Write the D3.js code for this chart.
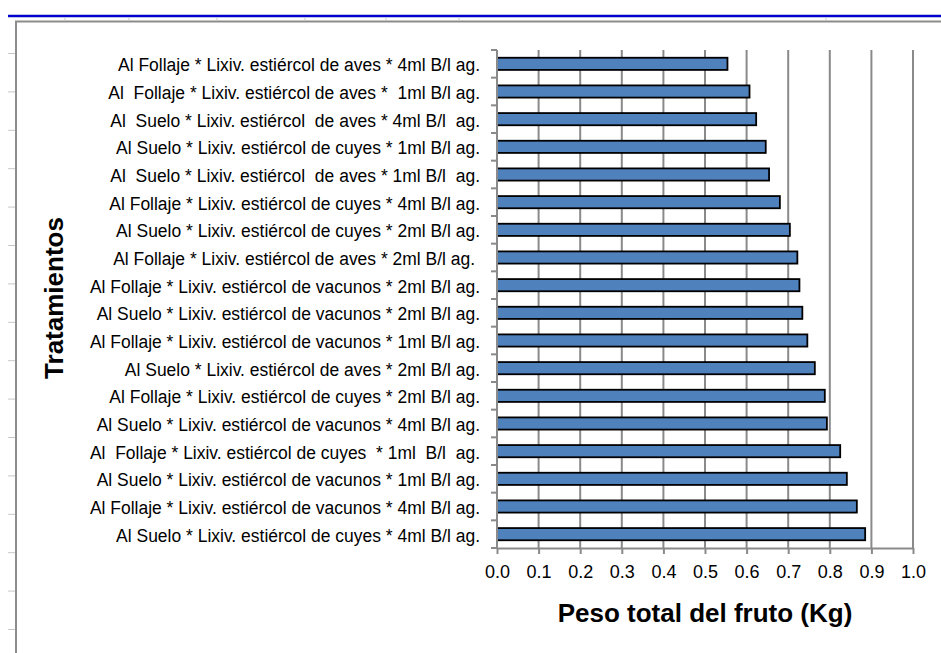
<!DOCTYPE html>
<html lang="es">
<head>
<meta charset="utf-8">
<script src="https://d3js.org/d3.v7.min.js"></script>
<style>
  body { margin: 0; background: #fff; }
  svg text { white-space: pre; }
</style>
</head>
<body>
<div id="chart"></div>
<script>
// treatments, top to bottom as in the picture
const tratamientos = [
  "Al Follaje * Lixiv. estiércol de aves * 4ml B/l ag.",
  "Al  Follaje * Lixiv. estiércol de aves *  1ml B/l ag.",
  "Al  Suelo * Lixiv. estiércol  de aves * 4ml B/l  ag.",
  "Al Suelo * Lixiv. estiércol de cuyes * 1ml B/l ag.",
  "Al  Suelo * Lixiv. estiércol  de aves * 1ml B/l  ag.",
  "Al Follaje * Lixiv. estiércol de cuyes * 4ml B/l ag.",
  "Al Suelo * Lixiv. estiércol de cuyes * 2ml B/l ag.",
  "Al Follaje * Lixiv. estiércol de aves * 2ml B/l ag. ",
  "Al Follaje * Lixiv. estiércol de vacunos * 2ml B/l ag.",
  "Al Suelo * Lixiv. estiércol de vacunos * 2ml B/l ag.",
  "Al Follaje * Lixiv. estiércol de vacunos * 1ml B/l ag.",
  "Al Suelo * Lixiv. estiércol de aves * 2ml B/l ag.",
  "Al Follaje * Lixiv. estiércol de cuyes * 2ml B/l ag.",
  "Al Suelo * Lixiv. estiércol de vacunos * 4ml B/l ag.",
  "Al  Follaje * Lixiv. estiércol de cuyes  * 1ml  B/l  ag.",
  "Al Suelo * Lixiv. estiércol de vacunos * 1ml B/l ag.",
  "Al Follaje * Lixiv. estiércol de vacunos * 4ml B/l ag.",
  "Al Suelo * Lixiv. estiércol de cuyes * 4ml B/l ag."
];
// peso total del fruto (Kg)
const peso = [0.554, 0.607, 0.623, 0.646, 0.654, 0.680, 0.704, 0.722, 0.727,
              0.734, 0.746, 0.764, 0.788, 0.793, 0.825, 0.841, 0.865, 0.885];
const xTicks = [0, 0.1, 0.2, 0.3, 0.4, 0.5, 0.6, 0.7, 0.8, 0.9, 1.0];

const W = 941, H = 653;
const mLeft = 497, mRight = 913, mTop = 50, mBottom = 548;

const svg = d3.select("#chart").append("svg")
    .attr("width", W)
    .attr("height", H);

// page border bits from the document the chart sits in
svg.append("line").attr("x1", 8).attr("x2", W).attr("y1", 16).attr("y2", 16)
    .attr("stroke", "#0000cc").attr("stroke-width", 2.4);
svg.append("line").attr("x1", 15).attr("x2", W).attr("y1", 21.5).attr("y2", 21.5)
    .attr("stroke", "#8c8c8c").attr("stroke-width", 2);
svg.append("line").attr("x1", 16).attr("x2", 16).attr("y1", 21).attr("y2", H)
    .attr("stroke", "#8c8c8c").attr("stroke-width", 2);
svg.selectAll(".ruler").data(d3.range(16)).enter().append("line")
    .attr("x1", 8).attr("x2", 15)
    .attr("y1", d => 53.5 + d * 38.4).attr("y2", d => 53.5 + d * 38.4)
    .attr("stroke", "#c8c8c8");
svg.selectAll(".rulertop").data([65, 129, 217, 305, 386, 459, 826]).enter().append("line")
    .attr("x1", d => d).attr("x2", d => d).attr("y1", 17).attr("y2", 21)
    .attr("stroke", "#c8c8c8");

const x = d3.scaleLinear().domain([0, 1]).range([mLeft, mRight]);
const y = d3.scaleBand().domain(tratamientos).range([mTop, mBottom])
    .paddingInner(0.56).paddingOuter(0.28);

// vertical gridlines
svg.append("g")
  .selectAll("line").data(xTicks.slice(1)).enter().append("line")
    .attr("x1", d => x(d)).attr("x2", d => x(d))
    .attr("y1", mTop).attr("y2", mBottom)
    .attr("stroke", "#8a8a8a").attr("stroke-width", 2);

// bars
svg.append("g")
  .selectAll("rect").data(peso).enter().append("rect")
    .attr("x", x(0))
    .attr("y", (d, i) => y(tratamientos[i]))
    .attr("width", d => x(d) - x(0))
    .attr("height", y.bandwidth())
    .attr("fill", "#4f81bd")
    .attr("stroke", "#000")
    .attr("stroke-width", 1.8);

// x axis
const xAxis = svg.append("g")
    .attr("transform", "translate(0," + mBottom + ")")
    .call(d3.axisBottom(x).tickValues(xTicks).tickFormat(d3.format(".1f"))
          .tickSizeInner(6).tickSizeOuter(0).tickPadding(11));
xAxis.select(".domain").attr("stroke", "#8a8a8a").attr("stroke-width", 2);
xAxis.selectAll(".tick line").attr("stroke", "#8a8a8a").attr("stroke-width", 2);
xAxis.selectAll("text")
    .attr("font-family", "Liberation Sans, Arial, sans-serif")
    .attr("font-size", 18).attr("fill", "#000");

// y axis: ticks at band boundaries
const yAxisG = svg.append("g");
yAxisG.append("line")
    .attr("x1", mLeft).attr("x2", mLeft).attr("y1", mTop).attr("y2", mBottom)
    .attr("stroke", "#8a8a8a").attr("stroke-width", 2);
const step = y.step();
yAxisG.selectAll(".yt").data(d3.range(tratamientos.length + 1)).enter().append("line")
    .attr("x1", mLeft - 6).attr("x2", mLeft)
    .attr("y1", d => mTop + d * step).attr("y2", d => mTop + d * step)
    .attr("stroke", "#8a8a8a").attr("stroke-width", 2);

// category labels (condensed, like Arial Narrow)
svg.append("g")
  .selectAll("text").data(tratamientos).enter().append("text")
    .attr("transform", d => "translate(480," + (y(d) + y.bandwidth() / 2) + ") scale(0.92,1)")
    .attr("dy", "0.4em")
    .attr("text-anchor", "end")
    .attr("font-family", "Liberation Sans, Arial, sans-serif")
    .attr("font-size", 19)
    .attr("fill", "#000")
    .text(d => d);

// axis titles
svg.append("text")
    .attr("x", 705).attr("y", 622)
    .attr("text-anchor", "middle")
    .attr("font-family", "Liberation Sans, Arial, sans-serif")
    .attr("font-weight", "bold").attr("font-size", 26)
    .text("Peso total del fruto (Kg)");

svg.append("text")
    .attr("transform", "translate(63,298) rotate(-90)")
    .attr("text-anchor", "middle")
    .attr("font-family", "Liberation Sans, Arial, sans-serif")
    .attr("font-weight", "bold").attr("font-size", 26)
    .text("Tratamientos");
</script>
</body>
</html>
